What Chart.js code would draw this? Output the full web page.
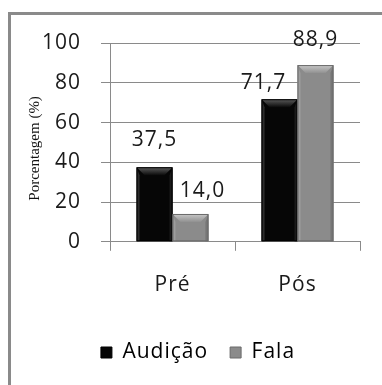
<!DOCTYPE html>
<html>
<head>
<meta charset="utf-8">
<script src="https://cdn.jsdelivr.net/npm/chart.js@4/dist/chart.umd.min.js"></script>
<style>
  html, body { margin: 0; padding: 0; background: #fff; }
  #wrap { width: 382px; height: 385px; position: relative; }
</style>
</head>
<body>
<div id="wrap"><canvas id="c" width="382" height="385"></canvas></div>
<script>
// Categories and series
const categories = ['Pré', 'Pós'];
const audicao = [37.5, 71.7];
const fala = [14.0, 88.9];
const seriesNames = ['Audição', 'Fala'];
const yTicks = [0, 20, 40, 60, 80, 100];
const yTitle = 'Porcentagem (%)';

// Label nudges in px (dx, dy above bar top) for each dataset / category
const labelNudge = [
  [[0, 27], [-16, 16]],
  [[12, 23], [0, 25]]
];

const FONT = '"Open Sans", Lato, sans-serif';
const SIZE = 21;
const SPACING = '1px';

const styles = [
  { base: '#060606', topHi: '#5c5c5c', topLo: '#0a0a0a', left: '#2c2c2c', right: '#1a1a1a', line: '#000' },
  { base: '#8b8b8b', topHi: '#c8c8c8', topLo: '#919191', left: '#9d9d9d', right: '#767676', line: '#6a6a6a' }
];

// Frame lines and letter spacing for the sans text
const framePlugin = {
  id: 'frame',
  beforeInit(chart) { chart.ctx.letterSpacing = SPACING; },
  beforeDraw(chart) {
    const ctx = chart.ctx;
    ctx.save();
    ctx.fillStyle = '#8a8a8a';
    ctx.fillRect(8, 12, chart.width - 8, 3);
    ctx.fillRect(8, 12, 3, chart.height - 12);
    ctx.restore();
    ctx.letterSpacing = SPACING;
  },
  afterDraw(chart) {
    // rotated serif axis title
    const ctx = chart.ctx;
    const area = chart.chartArea;
    ctx.save();
    ctx.letterSpacing = '0px';
    ctx.font = '15px "Liberation Serif", serif';
    ctx.fillStyle = '#111';
    ctx.textAlign = 'center';
    ctx.textBaseline = 'middle';
    ctx.translate(35, (area.top + area.bottom) / 2 + 6);
    ctx.rotate(-Math.PI / 2);
    ctx.fillText(yTitle, 0, 0);
    ctx.restore();
    ctx.letterSpacing = SPACING;
  }
};

// Bevelled bar faces
const bevelPlugin = {
  id: 'bevel',
  afterDatasetsDraw(chart) {
    const ctx = chart.ctx;
    chart.data.datasets.forEach((ds, di) => {
      const st = styles[di];
      chart.getDatasetMeta(di).data.forEach(bar => {
        const l = bar.x - bar.width / 2, r = bar.x + bar.width / 2;
        const t = bar.y, b = bar.base;
        const h = b - t;
        const d = Math.min(8, h / 2), s = 3;
        ctx.save();
        ctx.fillStyle = st.left;
        ctx.beginPath();
        ctx.moveTo(l, t); ctx.lineTo(l + s, t + d); ctx.lineTo(l + s, b); ctx.lineTo(l, b); ctx.closePath(); ctx.fill();
        ctx.fillStyle = st.right;
        ctx.beginPath();
        ctx.moveTo(r, t); ctx.lineTo(r - s, t + d); ctx.lineTo(r - s, b); ctx.lineTo(r, b); ctx.closePath(); ctx.fill();
        const g = ctx.createLinearGradient(0, t, 0, t + d);
        g.addColorStop(0, st.topHi);
        g.addColorStop(1, st.topLo);
        ctx.fillStyle = g;
        ctx.beginPath();
        ctx.moveTo(l, t); ctx.lineTo(r, t); ctx.lineTo(r - d, t + d); ctx.lineTo(l + d, t + d); ctx.closePath(); ctx.fill();
        ctx.strokeStyle = st.line;
        ctx.lineWidth = 1;
        ctx.strokeRect(l + 0.5, t + 0.5, r - l - 1, h - 1);
        ctx.restore();
      });
    });
  }
};

// Value labels above the bars
const valuePlugin = {
  id: 'values',
  afterDatasetsDraw(chart) {
    const ctx = chart.ctx;
    ctx.save();
    ctx.font = SIZE + 'px ' + FONT;
    ctx.fillStyle = '#1a1a1a';
    ctx.textAlign = 'center';
    ctx.textBaseline = 'middle';
    chart.data.datasets.forEach((ds, di) => {
      chart.getDatasetMeta(di).data.forEach((bar, i) => {
        const v = ds.data[i];
        const [dx, dy] = labelNudge[di][i];
        ctx.fillText(v.toFixed(1).replace('.', ','), bar.x + dx, bar.y - dy);
      });
    });
    ctx.restore();
  }
};

new Chart(document.getElementById('c'), {
  type: 'bar',
  data: {
    labels: categories,
    datasets: [
      { label: seriesNames[0], data: audicao, backgroundColor: styles[0].base, borderWidth: 0 },
      { label: seriesNames[1], data: fala, backgroundColor: styles[1].base, borderWidth: 0 }
    ]
  },
  options: {
    responsive: false,
    animation: false,
    devicePixelRatio: 1,
    categoryPercentage: 0.575,
    barPercentage: 1,
    layout: { padding: { top: 43, right: 22, bottom: 12, left: 25 } },
    plugins: {
      tooltip: { enabled: false },
      legend: {
        position: 'bottom',
        labels: {
          font: { family: FONT, size: SIZE },
          color: '#1a1a1a',
          boxWidth: 11,
          boxHeight: 11,
          padding: 22,
          generateLabels(chart) {
            return chart.data.datasets.map((ds, i) => ({
              text: ds.label,
              fillStyle: styles[i].base,
              strokeStyle: styles[i].line,
              lineWidth: 1,
              datasetIndex: i
            }));
          }
        }
      }
    },
    scales: {
      x: {
        grid: { drawOnChartArea: false, drawTicks: true, tickLength: 9, color: '#8a8a8a' },
        border: { color: '#8a8a8a' },
        ticks: { font: { family: FONT, size: SIZE }, color: '#1a1a1a', padding: 22 }
      },
      y: {
        min: 0, max: 100,
        afterBuildTicks(scale) { scale.ticks = yTicks.map(v => ({ value: v })); },
        grid: { color: '#8a8a8a', tickLength: 9 },
        border: { color: '#8a8a8a' },
        ticks: { font: { family: FONT, size: SIZE }, color: '#1a1a1a', padding: 20 }
      }
    }
  },
  plugins: [framePlugin, bevelPlugin, valuePlugin]
});
</script>
</body>
</html>
